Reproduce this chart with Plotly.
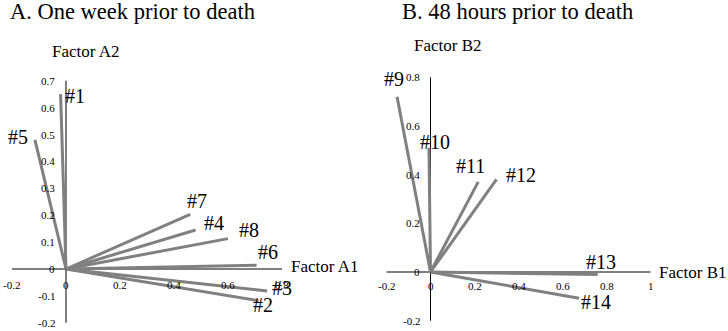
import plotly.graph_objects as go

# ---------------- data ----------------
a_labels = ["#1", "#5", "#7", "#4", "#8", "#6", "#3", "#2"]
a_x = [-0.02, -0.115, 0.46, 0.48, 0.60, 0.706, 0.745, 0.713]
a_y = [0.65, 0.48, 0.203, 0.145, 0.113, 0.014, -0.082, -0.118]

b_labels = ["#9", "#10", "#11", "#12", "#13", "#14"]
b_x = [-0.152, -0.007, 0.217, 0.30, 0.76, 0.675]
b_y = [0.72, 0.51, 0.37, 0.38, -0.01, -0.108]

a_xticks = [-0.2, 0, 0.2, 0.4, 0.6, 0.8]
a_yticks = [-0.2, -0.1, 0, 0.1, 0.2, 0.3, 0.4, 0.5, 0.6, 0.7]
b_xticks = [-0.2, 0, 0.2, 0.4, 0.6, 0.8, 1]
b_yticks = [-0.2, 0, 0.2, 0.4, 0.6, 0.8]

titles = ["A. One week prior to death", "B. 48 hours prior to death"]
axis_names = [("Factor A1", "Factor A2"), ("Factor B1", "Factor B2")]

# ---------------- styling ----------------
FONT = "Liberation Serif, Times New Roman, serif"
GRAY = "#808080"
# label pixel offsets (dx, dy up) relative to vector end
a_off = {"#1": (14, -2), "#5": (-17, 3), "#7": (7, 13), "#4": (18, 7),
         "#8": (21, 9), "#6": (11, 13), "#3": (15, 3), "#2": (4, -4)}
b_off = {"#9": (-3, 18), "#10": (6, 6), "#11": (-8, 16), "#12": (24, 4),
         "#13": (3, 12), "#14": (17, -4)}

fig = go.Figure()
annotations = []


def panel(xs, ys, labels, offs, xticks, yticks, names, xa, ya, xlab_shift, ylab_shift, name_shifts):
    # axes
    fig.add_trace(go.Scatter(x=[min(xticks), max(xticks)], y=[0, 0], mode="lines",
                             line=dict(color="black", width=1), xaxis=xa, yaxis=ya,
                             hoverinfo="skip", showlegend=False))
    fig.add_trace(go.Scatter(x=[0, 0], y=[min(yticks), max(yticks)], mode="lines",
                             line=dict(color="black", width=1), xaxis=xa, yaxis=ya,
                             hoverinfo="skip", showlegend=False))
    xr = xa
    yr = ya
    for xv, yv, lab in zip(xs, ys, labels):
        fig.add_trace(go.Scatter(x=[0, xv], y=[0, yv], mode="lines",
                                 line=dict(color=GRAY, width=3), xaxis=xa, yaxis=ya,
                                 showlegend=False, name=lab))
        dx, dy = offs[lab]
        annotations.append(dict(x=xv, y=yv, xref=xr, yref=yr, text=lab, showarrow=False,
                                xshift=dx, yshift=dy, xanchor="center", yanchor="middle",
                                font=dict(family=FONT, size=20, color="black")))
    for t in xticks:
        annotations.append(dict(x=t, y=0, xref=xr, yref=yr, text=f"{t:g}", showarrow=False,
                                yshift=xlab_shift, xanchor="center", yanchor="middle",
                                font=dict(family=FONT, size=11, color="black")))
    for t in yticks:
        annotations.append(dict(x=0, y=t, xref=xr, yref=yr, text=f"{t:g}", showarrow=False,
                                xshift=ylab_shift, xanchor="right", yanchor="middle",
                                font=dict(family=FONT, size=11, color="black")))
    (x1s, y1s), (x2s, y2s) = name_shifts
    annotations.append(dict(x=max(xticks), y=0, xref=xr, yref=yr, text=names[0], showarrow=False,
                            xshift=x1s, yshift=y1s, xanchor="left", yanchor="middle",
                            font=dict(family=FONT, size=17, color="black")))
    annotations.append(dict(x=0, y=max(yticks), xref=xr, yref=yr, text=names[1], showarrow=False,
                            xshift=x2s, yshift=y2s, xanchor="left", yanchor="middle",
                            font=dict(family=FONT, size=17, color="black")))


panel(a_x, a_y, a_labels, a_off, a_xticks, a_yticks, axis_names[0], "x", "y",
      -16, -9, ((7, 3), (-16, 29)))
panel(b_x, b_y, b_labels, b_off, b_xticks, b_yticks, axis_names[1], "x2", "y2",
      -14, -9, ((6, 0), (-19, 32)))

annotations.append(dict(x=8 / 728, y=1 - 11 / 331, xref="paper", yref="paper", text=titles[0],
                        showarrow=False, xanchor="left", yanchor="middle",
                        font=dict(family=FONT, size=22.5, color="black")))
annotations.append(dict(x=400 / 728, y=1 - 11 / 331, xref="paper", yref="paper", text=titles[1],
                        showarrow=False, xanchor="left", yanchor="middle",
                        font=dict(family=FONT, size=22.5, color="black")))

hidden = dict(visible=False, showgrid=False, zeroline=False, fixedrange=True)
fig.update_layout(
    width=728, height=331,
    margin=dict(l=0, r=0, t=0, b=0),
    paper_bgcolor="white", plot_bgcolor="white",
    showlegend=False,
    xaxis=dict(domain=[0, 0.5], range=[-0.2444, 1.1037], **hidden),
    yaxis=dict(domain=[0, 1], range=[-0.2305, 1.0], **hidden),
    xaxis2=dict(domain=[0.5, 1], range=[-0.3023, 1.3523], anchor="y2", **hidden),
    yaxis2=dict(domain=[0, 1], range=[-0.2423, 1.117], anchor="x2", **hidden),
    annotations=annotations,
)

fig.write_html("out.html")
